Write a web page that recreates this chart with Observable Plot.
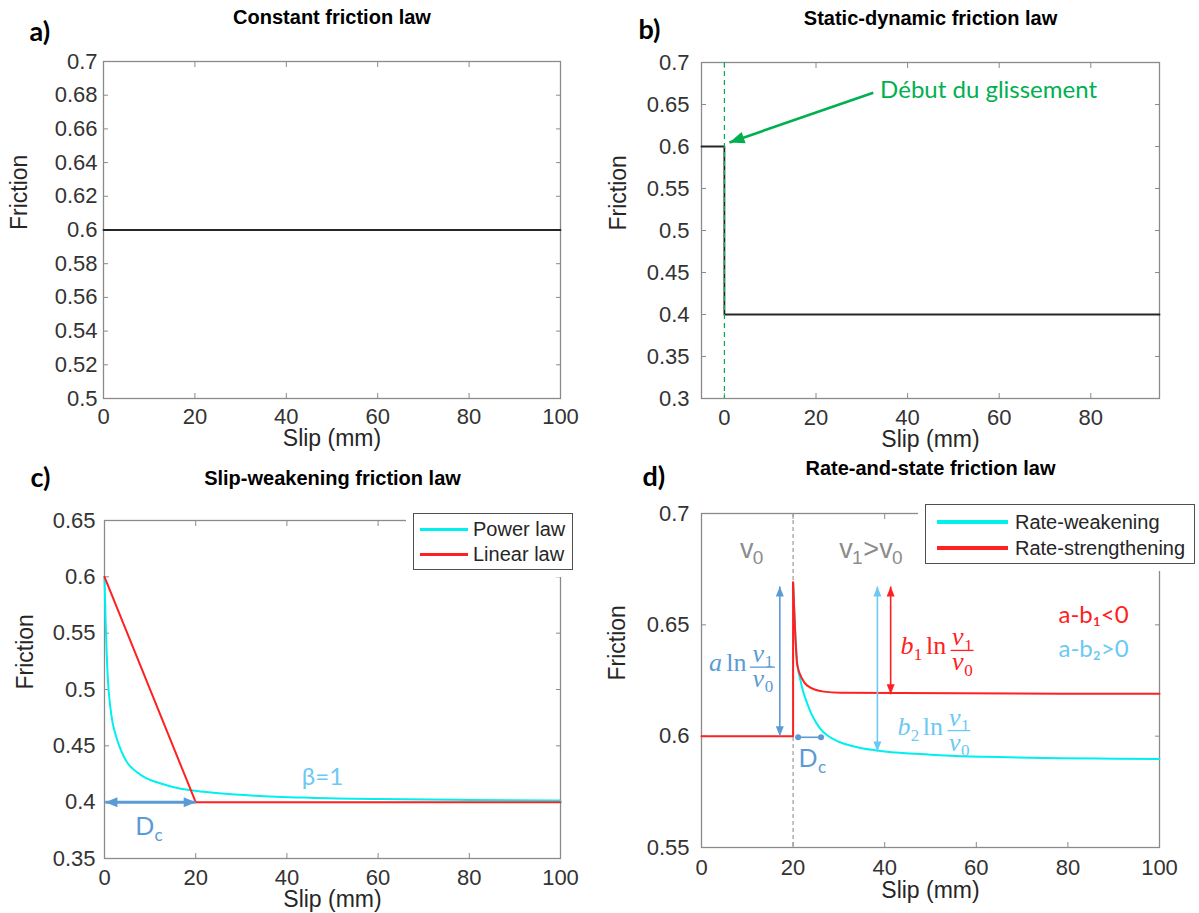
<!DOCTYPE html>
<html><head><meta charset="utf-8">
<script src="https://cdn.jsdelivr.net/npm/d3@7"></script>
<script src="https://cdn.jsdelivr.net/npm/@observablehq/plot@0.6"></script>
<style>
html,body{margin:0;padding:0;background:#fff;overflow:hidden;}
#root{position:relative;width:1199px;height:913px;overflow:hidden;}
.legend{position:absolute;background:#fff;border:1.4px solid #505050;box-shadow:0 0 0 7px #fff;font:20px "Liberation Sans",Arial,sans-serif;color:#262626;box-sizing:border-box;}
.legend .row{position:absolute;display:flex;align-items:center;height:24px;white-space:nowrap;}
.legend .sw{display:inline-block;}
</style></head><body><div id="root"></div>
<script>
// ---------------- data ----------------
// a) constant friction
const slipA = [0, 100];
const fricA = [0.6, 0.6];
// b) static-dynamic
const slipB = [-5, 0, 0, 95];
const fricB = [0.6, 0.6, 0.4, 0.4];
// c) slip-weakening
const slipPower = [0, 0.25, 0.5, 0.8, 1.2, 1.8, 2.5, 3.5, 5, 7, 9, 12, 15, 19, 25, 33, 45, 60, 80, 100];
const fricPower = [0.6, 0.56, 0.53, 0.505, 0.487, 0.47, 0.459, 0.447, 0.435, 0.427, 0.4215, 0.417, 0.4135, 0.4105, 0.408, 0.4058, 0.404, 0.4028, 0.402, 0.4015];
const slipLinear = [0, 20, 100];
const fricLinear = [0.6, 0.4, 0.4];
// d) rate-and-state
const slipStrength = [0, 20, 20, 20.4, 20.9, 22, 23.1, 26.7, 30.3, 100];
const fricStrength = [0.6, 0.6, 0.669, 0.649, 0.632, 0.6257, 0.6227, 0.62, 0.6195, 0.619];
const slipWeak = [20, 20.4, 20.9, 21.5, 22.2, 23, 24, 25, 26, 27.5, 30, 34, 40, 50, 65, 100];
const fricWeak = [0.669, 0.649, 0.633, 0.626, 0.62, 0.6152, 0.61, 0.6062, 0.6032, 0.6003, 0.5975, 0.595, 0.5931, 0.5917, 0.5906, 0.5898];

// tick values
const xTicks100 = [0, 20, 40, 60, 80, 100];
const xTicksB = [0, 20, 40, 60, 80];
const yTicksA = [0.5, 0.52, 0.54, 0.56, 0.58, 0.6, 0.62, 0.64, 0.66, 0.68, 0.7];
const yTicksB = [0.3, 0.35, 0.4, 0.45, 0.5, 0.55, 0.6, 0.65, 0.7];
const yTicksC = [0.35, 0.4, 0.45, 0.5, 0.55, 0.6, 0.65];
const yTicksD = [0.55, 0.6, 0.65, 0.7];

// texts
const titles = ["Constant friction law", "Static-dynamic friction law", "Slip-weakening friction law", "Rate-and-state friction law"];
const letters = ["a)", "b)", "c)", "d)"];
const xLabel = "Slip (mm)";
const yLabel = "Friction";
const legendC = ["Power law", "Linear law"];
const legendD = ["Rate-weakening", "Rate-strengthening"];

// annotations (data coordinates)
const noteB = {text: "Début du glissement", x: 34, y: 0.6667};
const arrowB = {x1: 32.5, y1: 0.664, x2: 1.1, y2: 0.6048};
const dcArrowC = {x1: 0.2, x2: 20, y: 0.4};
const dcTextC = {x: 8.8, y: 0.3713};
const betaC = {text: "β=1", x: 47.8, y: 0.4148};
const v0Text = {x: 8.4, y: 0.6798};
const v1Text = {x: 30.1, y: 0.6798};
const arrowA = {x: 17.1, y1: 0.6, y2: 0.6672};
const arrowB2 = {x: 38.4, y1: 0.5931, y2: 0.6672};
const arrowB1 = {x: 41.3, y1: 0.6188, y2: 0.6672};
const dcSegD = {x1: 21.1, x2: 26.1, y: 0.5995};
const dcTextD = {x: 23.25, y: 0.5861};
const fracA = {x: 13.3, y: 0.631, half: 2.73};
const fracB1 = {x: 56.9, y: 0.6385, half: 2.5};
const fracB2 = {x: 56.2, y: 0.6025, half: 2.5};
const condB1 = {text: "a-b₁<0", x: 85.6, y: 0.6542};
const condB2 = {text: "a-b₂>0", x: 85.6, y: 0.6389};

// ---------------- styles ----------------
const FRAME = "#8a8a8a", TICKTXT = "#333", BLACK = "#262626";
const SANS = "'Liberation Sans', Arial, Helvetica, sans-serif";
const CAL = "Lato, 'Open Sans', sans-serif";
const MATH = "'Liberation Serif', 'DejaVu Serif', serif";
const CYAN = "#00f0f0", RED = "#ff2020", GREEN = "#00b050", BLUE = "#5b9bd5", LBLUE = "#6cc9f3", GRAY = "#8c8c8c";
const fmt = d3.format("~g");

const zipXY = (xs, ys) => xs.map((x, i) => ({x, y: ys[i]}));

// arrowhead symbols (tip at origin)
const headUp = {draw(c) { c.moveTo(0, 0); c.lineTo(-4, 10); c.lineTo(4, 10); c.closePath(); }};
const headDown = {draw(c) { c.moveTo(0, 0); c.lineTo(-4, -10); c.lineTo(4, -10); c.closePath(); }};
const headLeft = {draw(c) { c.moveTo(0, 0); c.lineTo(12, -5); c.lineTo(12, 5); c.closePath(); }};
const headRight = {draw(c) { c.moveTo(0, 0); c.lineTo(-12, -5); c.lineTo(-12, 5); c.closePath(); }};
function headDir(ux, uy, L, W) {
  return {draw(c) {
    const bx = -ux * L, by = -uy * L, px = -uy * W, py = ux * W;
    c.moveTo(0, 0); c.lineTo(bx + px, by + py); c.lineTo(bx - px, by - py); c.closePath();
  }};
}

function vArrow(a, color) {
  return [
    Plot.link([a], {x1: "x", x2: "x", y1: "y1", y2: "y2", stroke: color, strokeWidth: 1.6}),
    Plot.dot([a], {x: "x", y: "y2", symbol: headUp, fill: color, stroke: "none"}),
    Plot.dot([a], {x: "x", y: "y1", symbol: headDown, fill: color, stroke: "none"})
  ];
}

// v with a subscript, pieces placed around an anchor (pixel offsets)
function vSub(anchor, sub, color, dx, dy, font, italic, size, subSize) {
  return [
    Plot.text([anchor], {x: "x", y: "y", text: () => "v", dx: dx, dy: dy, textAnchor: "start", lineAnchor: "bottom",
      fontFamily: font, fontStyle: italic ? "italic" : "normal", fontSize: size, fill: color}),
    Plot.text([anchor], {x: "x", y: "y", text: () => sub, dx: dx + size * 0.47, dy: dy + size * 0.2, textAnchor: "start", lineAnchor: "bottom",
      fontFamily: font, fontSize: subSize, fill: color})
  ];
}

function frac(f, color, lead) {
  const m = [
    Plot.link([f], {x1: d => d.x - d.half, x2: d => d.x + d.half, y1: "y", y2: "y", stroke: color, strokeWidth: 1.3}),
    ...vSub(f, "1", color, -10, -5, MATH, true, 26, 17),
    ...vSub(f, "0", color, -10, 20, MATH, true, 26, 17)
  ];
  for (const p of lead) {
    m.push(Plot.text([f], {x: "x", y: "y", text: () => p.t, dx: p.dx, dy: 4 + (p.sub ? 6 : 0), lineAnchor: "bottom",
      fontFamily: MATH, fontStyle: p.it ? "italic" : "normal", fontSize: p.sub ? 17 : 26, fill: color}));
  }
  return m;
}

const root = document.getElementById("root");

function makePanel(p) {
  const [bx, by, bw, bh] = p.box;
  const [fx0, fx1, fy0, fy1] = p.frame;
  const svg = Plot.plot({
    width: bw, height: bh,
    marginLeft: fx0 - bx, marginRight: bx + bw - fx1, marginTop: fy0 - by, marginBottom: by + bh - fy1,
    x: {domain: p.xDomain, label: null},
    y: {domain: p.yDomain, label: null},
    style: {fontFamily: SANS, background: "transparent", overflow: "visible"},
    marks: [
      Plot.frame({stroke: FRAME, strokeWidth: 1.3}),
      Plot.axisX(p.xTicks, {anchor: "bottom", tickSize: 5, dy: -5, fill: "none", stroke: FRAME, label: null}),
      Plot.axisX(p.xTicks, {anchor: "top", tickSize: 5, dy: 5, fill: "none", stroke: FRAME, label: null}),
      Plot.axisY(p.yTicks, {anchor: "left", tickSize: 5, dx: 5, fill: "none", stroke: FRAME, label: null}),
      Plot.axisY(p.yTicks, {anchor: "right", tickSize: 5, dx: -5, fill: "none", stroke: FRAME, label: null}),
      Plot.axisX(p.xTicks, {anchor: "bottom", tickSize: 0, tickPadding: p.xPad, fill: TICKTXT, fontSize: 22, tickFormat: fmt, label: null}),
      Plot.axisY(p.yTicks, {anchor: "left", tickSize: 0, tickPadding: p.yPad, fill: TICKTXT, fontSize: 22, tickFormat: fmt, label: null}),
      Plot.text([xLabel], {frameAnchor: "bottom", dy: p.xLabDy, fontSize: 23, fill: BLACK, lineAnchor: "middle"}),
      Plot.text([yLabel], {frameAnchor: "left", dx: p.yLabDx, rotate: -90, fontSize: 23, fill: BLACK, lineAnchor: "middle"}),
      Plot.text([p.title], {frameAnchor: "top", dy: p.titleY - fy0, fontSize: 20, fontWeight: "bold", fill: "#000", lineAnchor: "middle"}),
      Plot.text([p.letter], {frameAnchor: "top-left", dx: p.letterX - fx0, dy: p.letterY - fy0, textAnchor: "start", lineAnchor: "middle",
        fontFamily: CAL, fontWeight: "bold", fontSize: 27, fill: "#000"}),
      ...p.marks
    ]
  });
  svg.style.position = "absolute";
  svg.style.left = bx + "px";
  svg.style.top = by + "px";
  root.appendChild(svg);
}

function legend(labels, colors, box, sw) {
  const div = document.createElement("div");
  div.className = "legend";
  Object.assign(div.style, {left: box[0] + "px", top: box[1] + "px", width: box[2] + "px", height: box[3] + "px"});
  labels.forEach((lab, i) => {
    const row = document.createElement("div");
    row.className = "row";
    row.style.left = sw.left + "px";
    row.style.top = (sw.rows[i] - 12) + "px";
    const s = document.createElement("span");
    s.className = "sw";
    Object.assign(s.style, {width: sw.w + "px", height: sw.h + "px", background: colors[i], marginRight: sw.gap + "px"});
    const t = document.createElement("span");
    t.textContent = lab;
    row.appendChild(s); row.appendChild(t);
    div.appendChild(row);
  });
  root.appendChild(div);
}

// ---------------- panel a ----------------
makePanel({
  box: [0, 0, 600, 458], frame: [103, 560, 61, 398],
  xDomain: [0, 100], yDomain: [0.5, 0.7], xTicks: xTicks100, yTicks: yTicksA,
  xPad: 10, yPad: 6, xLabDy: 40, yLabDx: -84,
  title: titles[0], titleY: 17, letter: letters[0], letterX: 29, letterY: 32,
  marks: [
    Plot.line(zipXY(slipA, fricA), {x: "x", y: "y", stroke: BLACK, strokeWidth: 1.8})
  ]
});

// ---------------- panel b ----------------
const frameB = [701, 1159, 62, 398], xDomB = [-5, 95], yDomB = [0.3, 0.7];
const kxB = (frameB[1] - frameB[0]) / (xDomB[1] - xDomB[0]);
const kyB = (frameB[3] - frameB[2]) / (yDomB[1] - yDomB[0]);
const dxB = (arrowB.x2 - arrowB.x1) * kxB, dyB = -(arrowB.y2 - arrowB.y1) * kyB;
const nB = Math.hypot(dxB, dyB);
const headB = headDir(dxB / nB, dyB / nB, 15, 6);
makePanel({
  box: [600, 0, 599, 458], frame: frameB,
  xDomain: xDomB, yDomain: yDomB, xTicks: xTicksB, yTicks: yTicksB,
  xPad: 11, yPad: 12, xLabDy: 41, yLabDx: -83,
  title: titles[1], titleY: 18, letter: letters[1], letterX: 638, letterY: 30,
  marks: [
    Plot.line(zipXY(slipB, fricB), {x: "x", y: "y", stroke: BLACK, strokeWidth: 1.8}),
    Plot.ruleX([0], {stroke: GREEN, strokeWidth: 1.2, strokeDasharray: "5,4"}),
    Plot.link([arrowB], {x1: "x1", y1: "y1", x2: "x2", y2: "y2", stroke: GREEN, strokeWidth: 2.6}),
    Plot.dot([arrowB], {x: "x2", y: "y2", symbol: headB, fill: GREEN, stroke: "none"}),
    Plot.text([noteB], {x: "x", y: "y", text: "text", textAnchor: "start", fontFamily: CAL, fontSize: 24, fill: GREEN, lineAnchor: "middle"})
  ]
});

// ---------------- panel c ----------------
makePanel({
  box: [0, 458, 600, 455], frame: [104, 560, 520, 858],
  xDomain: [0, 100], yDomain: [0.35, 0.65], xTicks: xTicks100, yTicks: yTicksC,
  xPad: 11, yPad: 9, xLabDy: 41, yLabDx: -79,
  title: titles[2], titleY: 478, letter: letters[2], letterX: 30, letterY: 478,
  marks: [
    Plot.line(zipXY(slipPower, fricPower), {x: "x", y: "y", stroke: CYAN, strokeWidth: 2, curve: "monotone-x"}),
    Plot.line(zipXY(slipLinear, fricLinear), {x: "x", y: "y", stroke: RED, strokeWidth: 2}),
    Plot.link([dcArrowC], {x1: "x1", x2: "x2", y1: "y", y2: "y", stroke: BLUE, strokeWidth: 3}),
    Plot.dot([dcArrowC], {x: "x1", y: "y", symbol: headLeft, fill: BLUE, stroke: "none"}),
    Plot.dot([dcArrowC], {x: "x2", y: "y", symbol: headRight, fill: BLUE, stroke: "none"}),
    Plot.text([dcTextC], {x: "x", y: "y", text: () => "D", fontFamily: CAL, fontSize: 25, fill: BLUE, lineAnchor: "bottom"}),
    Plot.text([dcTextC], {x: "x", y: "y", text: () => "c", dx: 14, dy: 6, fontFamily: CAL, fontSize: 17, fill: BLUE, lineAnchor: "bottom"}),
    Plot.text([betaC], {x: "x", y: "y", text: "text", fontFamily: CAL, fontSize: 24, fill: LBLUE, lineAnchor: "bottom"})
  ]
});

// ---------------- panel d ----------------
makePanel({
  box: [600, 458, 599, 455], frame: [701, 1159, 513, 847],
  xDomain: [0, 100], yDomain: [0.55, 0.7], xTicks: xTicks100, yTicks: yTicksD,
  xPad: 12, yPad: 12, xLabDy: 43, yLabDx: -84,
  title: titles[3], titleY: 468, letter: letters[3], letterX: 642, letterY: 477,
  marks: [
    Plot.ruleX([20], {stroke: "#999", strokeWidth: 1.2, strokeDasharray: "4,3"}),
    Plot.line(zipXY(slipWeak, fricWeak), {x: "x", y: "y", stroke: CYAN, strokeWidth: 2, curve: "monotone-x"}),
    Plot.line(zipXY(slipStrength.slice(0, 3), fricStrength.slice(0, 3)), {x: "x", y: "y", stroke: RED, strokeWidth: 2}),
    Plot.line(zipXY(slipStrength.slice(2), fricStrength.slice(2)), {x: "x", y: "y", stroke: RED, strokeWidth: 2, curve: "monotone-x"}),
    ...vArrow(arrowA, BLUE),
    ...vArrow(arrowB2, LBLUE),
    ...vArrow(arrowB1, RED),
    Plot.link([dcSegD], {x1: "x1", x2: "x2", y1: "y", y2: "y", stroke: BLUE, strokeWidth: 1.6}),
    Plot.dot([dcSegD], {x: "x1", y: "y", r: 3, fill: BLUE, stroke: "none"}),
    Plot.dot([dcSegD], {x: "x2", y: "y", r: 3, fill: BLUE, stroke: "none"}),
    Plot.text([dcTextD], {x: "x", y: "y", text: () => "D", fontFamily: CAL, fontSize: 25, fill: BLUE, lineAnchor: "bottom"}),
    Plot.text([dcTextD], {x: "x", y: "y", text: () => "c", dx: 14, dy: 6, fontFamily: CAL, fontSize: 17, fill: BLUE, lineAnchor: "bottom"}),
    // gray velocity labels: v0 and v1>v0
    ...vSub(v0Text, "0", GRAY, 0, 0, SANS, false, 27, 19),
    ...vSub(v1Text, "1", GRAY, 0, 0, SANS, false, 27, 19),
    Plot.text([v1Text], {x: "x", y: "y", text: () => ">", dx: 24, textAnchor: "start", lineAnchor: "bottom", fontFamily: SANS, fontSize: 27, fill: GRAY}),
    ...vSub(v1Text, "0", GRAY, 40, 0, SANS, false, 27, 19),
    ...frac(fracA, BLUE, [{t: "a", dx: -47, it: true}, {t: "ln", dx: -26}]),
    ...frac(fracB1, RED, [{t: "b", dx: -55, it: true}, {t: "1", dx: -44, sub: true}, {t: "ln", dx: -26}]),
    ...frac(fracB2, LBLUE, [{t: "b", dx: -55, it: true}, {t: "2", dx: -44, sub: true}, {t: "ln", dx: -26}]),
    Plot.text([condB1], {x: "x", y: "y", text: "text", fontFamily: CAL, fontSize: 24, fill: RED, lineAnchor: "middle"}),
    Plot.text([condB2], {x: "x", y: "y", text: "text", fontFamily: CAL, fontSize: 24, fill: LBLUE, lineAnchor: "middle"})
  ]
});

legend(legendC, [CYAN, RED], [413, 513, 160, 57], {left: 6, rows: [15, 40], w: 48, h: 3, gap: 5});
legend(legendD, [CYAN, RED], [925, 504, 270, 60], {left: 11, rows: [17, 43], w: 71, h: 4, gap: 7});
</script>
</body></html>
